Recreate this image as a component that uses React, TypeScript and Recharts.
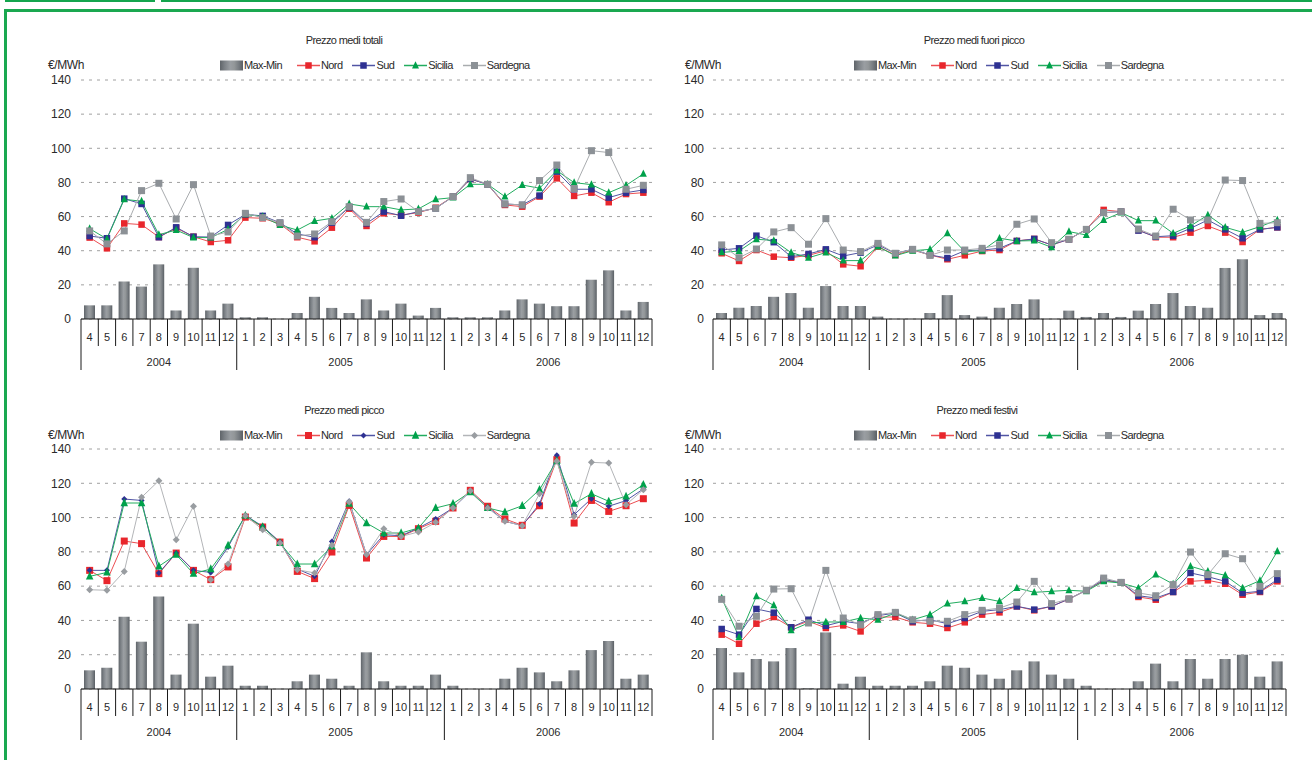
import React from 'react';
import { ComposedChart, Bar, Line, XAxis, YAxis, CartesianGrid } from 'recharts';

// ---------- categories ----------
const MONTHS = ['4','5','6','7','8','9','10','11','12','1','2','3','4','5','6','7','8','9','10','11','12','1','2','3','4','5','6','7','8','9','10','11','12'];
const YEARS = [
  { label: '2004', count: 9 },
  { label: '2005', count: 12 },
  { label: '2006', count: 12 },
];
const Y_TICKS = [0, 20, 40, 60, 80, 100, 120, 140];

// ---------- Prezzo medi totali ----------
const TOT_MAXMIN = [8, 8, 22, 19, 32, 5, 30, 5, 9, 1, 1, 0, 3.5, 13, 6.5, 3.5, 11.5, 5, 9, 2, 6.5, 1, 1, 1, 5, 11.5, 9, 7.5, 7.5, 23, 28.5, 5, 10];
const TOT_NORD = [47.7, 41.4, 56, 55.3, 48, 53.3, 48.2, 45.1, 46.1, 59.4, 59, 55.7, 47.9, 45.5, 53.5, 64.6, 54.5, 61.9, 60.9, 62.3, 65.2, 71.7, 82, 78.9, 66.8, 65.8, 71.7, 82.4, 72.1, 74, 68.4, 73.2, 74];
const TOT_SUD = [48.6, 47.3, 70.5, 67.4, 47.9, 53.7, 48.2, 48, 55.1, 61.3, 60.4, 56.4, 49.8, 47.9, 56.4, 65.4, 56, 62.9, 60.5, 62.9, 64.8, 71.7, 82, 78.9, 67.4, 66.8, 72.3, 86.3, 76, 76, 71.1, 74, 75.6];
const TOT_SICILIA = [52.9, 46.9, 70.1, 69, 49.4, 52.1, 47.7, 47.7, 52.5, 61.3, 60, 55, 52.1, 57.4, 59, 67.4, 65.8, 65.8, 63.9, 64.5, 70.1, 71.1, 78.9, 78.9, 71.7, 78.5, 76.6, 86.9, 79.9, 78.7, 74, 78.3, 85];
const TOT_SARDEGNA = [51.6, 44, 51.6, 75.2, 79.5, 58.6, 78.7, 48.6, 51, 61.9, 59.4, 56.4, 48.6, 49.8, 57, 65.8, 56.6, 68.8, 70.3, 62.9, 64.8, 71.7, 82.8, 78.9, 67.4, 66.8, 81.1, 90.2, 76.4, 98.6, 97.5, 76, 78.3];

// ---------- Prezzo medi fuori picco ----------
const FP_MAXMIN = [3.5, 6.6, 7.6, 13, 15.2, 6.6, 19.3, 7.6, 7.6, 1.4, 0, 0, 3.5, 14, 2.3, 1.4, 6.6, 8.8, 11.5, 0, 4.9, 1.2, 3.5, 1.2, 4.9, 8.8, 15.2, 7.6, 6.6, 29.9, 35, 2.3, 3.5];
const FP_NORD = [38.5, 34, 40.4, 36.5, 35.9, 37.3, 40, 32, 30.9, 42.4, 37.5, 40.4, 37.5, 35, 37.3, 39.8, 40.4, 45.7, 46.9, 43.4, 46.7, 52.5, 63.9, 62.9, 52.1, 47.9, 47.9, 50.6, 54.5, 50.6, 45.1, 52.5, 53.7];
const FP_SUD = [40.4, 41.4, 48.8, 45, 36.5, 38.1, 40.8, 36.9, 38.9, 43.4, 38.5, 40.8, 37.5, 35.7, 40, 40.4, 41.4, 45.7, 46.9, 43.4, 46.7, 52.5, 62.3, 62.9, 51.8, 48.2, 48.8, 53.1, 58, 52.5, 47.3, 52.5, 53.7];
const FP_SICILIA = [39, 39.8, 46.7, 46, 38.9, 35.9, 38.9, 34.2, 34.2, 42.4, 37.1, 40, 40.8, 50.2, 39.5, 40, 47.3, 45.7, 45.9, 42, 51.2, 49.2, 58, 62.3, 57.6, 57.6, 50.2, 54.5, 60.9, 53.7, 50.8, 54.1, 58];
const FP_SARDEGNA = [43.4, 35.9, 41, 51, 53.5, 43.8, 58.8, 40.4, 39.5, 44.3, 38.5, 40.8, 37.3, 40.4, 40.4, 41.4, 43.4, 55.5, 58.6, 44.7, 46.7, 52.5, 62.3, 62.9, 52.7, 48.6, 64.3, 58, 58, 81.4, 81.1, 56, 56.4];

// ---------- Prezzo medi picco ----------
const PK_MAXMIN = [10.9, 12.4, 42.2, 27.6, 53.9, 8.4, 38.1, 7.2, 13.6, 1.9, 1.9, 0, 4.5, 8.4, 6, 1.9, 21.4, 4.5, 1.9, 1.9, 8.4, 1.9, 0, 0, 6, 12.4, 9.7, 4.5, 10.9, 22.7, 28, 6, 8.4];
const PK_NORD = [69.2, 63.2, 86.3, 84.8, 67.3, 79.3, 69.2, 63.8, 71.2, 100.3, 94.5, 85.7, 68.6, 64.4, 79.9, 107.1, 76.4, 89, 89, 93.5, 97.8, 105.6, 115.9, 106.6, 99.2, 95.5, 106.9, 133.8, 96.8, 110, 103.6, 106.9, 111];
const PK_SUD = [69.2, 69.2, 110.8, 110, 67.7, 79.3, 69.2, 68, 82.8, 101.3, 94.9, 85.7, 70, 65.7, 86.1, 109.5, 78.4, 90, 89.4, 93.9, 99.2, 105.6, 115.3, 106.2, 97.8, 95.3, 107.9, 136.3, 101.7, 111, 106.6, 109.9, 116.7];
const PK_SICILIA = [65.7, 68, 108.5, 108.5, 71.6, 78.4, 67.3, 70, 83.8, 101.1, 94.5, 85.2, 72.9, 72.9, 83.2, 108.1, 96.8, 91, 91, 93.9, 105.6, 108.1, 114.9, 105.6, 103.2, 106.9, 116.3, 133.2, 108.1, 113.9, 109.5, 112.4, 119.2];
const PK_SARDEGNA = [57.9, 57.6, 68.6, 111.8, 121.5, 87.1, 106.6, 63.8, 72.9, 101.1, 92.9, 85.2, 69.6, 67.7, 83.8, 109.1, 78.4, 93.5, 89, 91.6, 97.2, 105.6, 115.7, 105.6, 97.8, 95.3, 113.9, 132.8, 100.7, 132.2, 131.8, 107.5, 116.3];

// ---------- Prezzo medi festivi ----------
const FE_MAXMIN = [23.9, 9.7, 17.5, 16.1, 23.9, 0.4, 33, 3.1, 7.2, 1.9, 1.9, 1.9, 4.5, 13.6, 12.4, 8.4, 6, 10.9, 16.1, 8.4, 6, 1.9, 0, 0, 4.5, 14.8, 4.5, 17.5, 6, 17.5, 20, 7.2, 16.1];
const FE_NORD = [31.7, 26.4, 38.1, 42, 36, 39.5, 35.6, 37.1, 33.6, 42, 42, 38.9, 38.1, 35.6, 38.9, 43.4, 44.7, 48.2, 45.9, 48.2, 52.5, 57.6, 63.2, 62.2, 53.7, 52.1, 56.6, 62.8, 63.4, 61.4, 55, 56.6, 62.8];
const FE_SUD = [35, 31.7, 46.7, 44.5, 36, 40.4, 36.9, 39.5, 38.1, 42.8, 44.3, 39.5, 40.4, 38.1, 41.4, 45.3, 46.3, 48.2, 46.3, 48.2, 52.5, 57.6, 63.8, 62.2, 54.4, 53.1, 56.6, 67.7, 65.5, 62.8, 56, 57, 63.8];
const FE_SICILIA = [53.1, 30.3, 54.1, 48.8, 34.2, 38.5, 39.1, 39.1, 41.4, 40.4, 44.3, 40.4, 43.4, 49.8, 51.1, 53.1, 51.1, 58.9, 56.4, 57, 57.6, 57, 62.8, 61.8, 58.9, 66.7, 61.2, 71.6, 68.6, 66.3, 58.9, 63.2, 80.3];
const FE_SARDEGNA = [52.3, 36.6, 42.4, 58.3, 58.5, 38.5, 69.2, 41.4, 37.5, 43.4, 44.7, 40.4, 39.5, 39.5, 43.4, 45.9, 47.2, 50.7, 62.8, 49.8, 52.5, 57.6, 64.7, 62.2, 56, 54.4, 60.9, 79.9, 66.7, 78.9, 76, 59.9, 67.3];

// ---------- styling ----------
const FONT = '"Liberation Sans", Arial, sans-serif';
const TEXT = '#2a2a2a';

type Shape = 'square' | 'triangle' | 'diamond' | 'circle';
type SeriesStyle = { key: string; name: string; line: string; fill: string; shape: Shape; size: number };

const STD_SERIES: SeriesStyle[] = [
  { key: 'nord', name: 'Nord', line: '#ec4f53', fill: '#e8262c', shape: 'square', size: 6.5 },
  { key: 'sud', name: 'Sud', line: '#5155a4', fill: '#2e3192', shape: 'square', size: 6.5 },
  { key: 'sicilia', name: 'Sicilia', line: '#22ad5f', fill: '#00a14b', shape: 'triangle', size: 7 },
  { key: 'sardegna', name: 'Sardegna', line: '#a9acaf', fill: '#8c9196', shape: 'square', size: 7 },
];
const PK_SERIES: SeriesStyle[] = [
  { key: 'nord', name: 'Nord', line: '#ec4f53', fill: '#e8262c', shape: 'square', size: 7 },
  { key: 'sud', name: 'Sud', line: '#5155a4', fill: '#2e3192', shape: 'diamond', size: 6 },
  { key: 'sicilia', name: 'Sicilia', line: '#22ad5f', fill: '#00a14b', shape: 'triangle', size: 7.5 },
  { key: 'sardegna', name: 'Sardegna', line: '#b3b5b8', fill: '#999da1', shape: 'diamond', size: 7 },
];

function markerEl(shape: Shape, cx: number, cy: number, s: number, fill: string, key?: any) {
  const h = s / 2;
  if (shape === 'square') return <rect key={key} x={cx - h} y={cy - h} width={s} height={s} fill={fill} />;
  if (shape === 'triangle')
    return <polygon key={key} points={`${cx},${cy - s * 0.62} ${cx - h},${cy + s * 0.42} ${cx + h},${cy + s * 0.42}`} fill={fill} />;
  if (shape === 'diamond')
    return <polygon key={key} points={`${cx},${cy - h} ${cx + h},${cy} ${cx},${cy + h} ${cx - h},${cy}`} fill={fill} />;
  return <circle key={key} cx={cx} cy={cy} r={h} fill={fill} />;
}

const makeDot = (st: SeriesStyle) => (p: any) => {
  const { cx, cy, index } = p;
  if (cx == null || cy == null || isNaN(cx) || isNaN(cy)) return <g key={`e${index}`} />;
  return markerEl(st.shape, cx, cy, st.size, st.fill, `d${index}`);
};

const YEAR_STARTS: number[] = YEARS.reduce((acc: number[], y, i) => {
  acc.push(i === 0 ? 0 : acc[i - 1] + YEARS[i - 1].count);
  return acc;
}, []);

const FALLBACK_HALF = 571 / MONTHS.length / 2;

const MonthTick = (props: any) => {
  const { x, y, payload } = props;
  const i = payload.index;
  const half = payload.offset ? payload.offset : FALLBACK_HALF;
  const yi = YEAR_STARTS.indexOf(i);
  const isLast = i === MONTHS.length - 1;
  return (
    <g>
      <line x1={x - half} x2={x - half} y1={y} y2={y + (yi >= 0 ? 51 : 27)} stroke="#1a1a1a" strokeWidth={1} />
      {isLast && <line x1={x + half} x2={x + half} y1={y} y2={y + 27} stroke="#1a1a1a" strokeWidth={1} />}
      <text x={x} y={y + 22} textAnchor="middle" fontSize={11} fill={TEXT} fontFamily={FONT}>{payload.value}</text>
      {yi >= 0 && (
        <text x={x - half + YEARS[yi].count * half} y={y + 47} textAnchor="middle" fontSize={11} fill={TEXT} fontFamily={FONT}>
          {YEARS[yi].label}
        </text>
      )}
    </g>
  );
};

function LegendIcon({ st }: { st?: SeriesStyle }) {
  if (!st) {
    return (
      <svg width={23} height={11} style={{ display: 'block' }}>
        <rect x={0} y={0.5} width={23} height={10} fill="url(#barGrad)" />
      </svg>
    );
  }
  return (
    <svg width={23} height={11} style={{ display: 'block' }}>
      <line x1={0} x2={23} y1={5.5} y2={5.5} stroke={st.line} strokeWidth={1.5} />
      {markerEl(st.shape, 11.5, 5.5, st.size, st.fill)}
    </svg>
  );
}

type PanelProps = {
  left: number; top: number; width: number;
  title: string; titleX: number; legendX: number; euroX: number;
  maxmin: number[]; nord: number[]; sud: number[]; sicilia: number[]; sardegna: number[];
  series: SeriesStyle[]; tickMargin: number; marginTop: number;
};

function Panel(p: PanelProps) {
  const data = MONTHS.map((m, i) => ({
    m, maxmin: p.maxmin[i], nord: p.nord[i], sud: p.sud[i], sicilia: p.sicilia[i], sardegna: p.sardegna[i],
  }));
  const txt: React.CSSProperties = { position: 'absolute', fontFamily: FONT, fontSize: 11, color: TEXT, whiteSpace: 'nowrap', lineHeight: '12px' };
  return (
    <div style={{ position: 'absolute', left: p.left, top: p.top, width: p.width, height: 380 }}>
      <ComposedChart width={p.width} height={380} data={data} margin={{ top: p.marginTop, right: 8, left: 41, bottom: 31 }}>
        <CartesianGrid vertical={false} stroke="#a0a0a0" strokeDasharray="3 5" />
        <YAxis
          domain={[0, 140]}
          ticks={Y_TICKS}
          width={40}
          axisLine={false}
          tickLine={false}
          tickSize={6}
          tickMargin={p.tickMargin}
          interval={0}
          tick={{ fontSize: 12, fill: TEXT, fontFamily: FONT }}
        />
        <XAxis
          dataKey="m"
          height={30}
          interval={0}
          tickLine={false}
          tickSize={0}
          tickMargin={0}
          axisLine={{ stroke: '#1a1a1a' }}
          tick={<MonthTick />}
        />
        <Bar dataKey="maxmin" fill="url(#barGrad)" barSize={11} isAnimationActive={false} />
        {p.series.map((st) => (
          <Line
            key={st.key}
            dataKey={st.key}
            type="linear"
            stroke={st.line}
            strokeWidth={1}
            dot={makeDot(st)}
            activeDot={false}
            isAnimationActive={false}
          />
        ))}
      </ComposedChart>
      <div style={{ ...txt, left: p.titleX, top: 34, transform: 'translateX(-50%)', letterSpacing: '-0.6px' }}>{p.title}</div>
      <div style={{ ...txt, left: p.euroX, top: 59, fontSize: 12, letterSpacing: '-0.4px' }}>€/MWh</div>
      <div style={{ position: 'absolute', left: p.legendX, top: 59, display: 'flex', alignItems: 'center', fontFamily: FONT, fontSize: 11, color: TEXT, letterSpacing: '-0.6px', lineHeight: '12px' }}>
        <LegendIcon />
        <span style={{ marginLeft: 1, marginRight: 15 }}>Max-Min</span>
        {p.series.map((st) => (
          <React.Fragment key={st.key}>
            <LegendIcon st={st} />
            <span style={{ marginLeft: 1, marginRight: 10 }}>{st.name}</span>
          </React.Fragment>
        ))}
      </div>
    </div>
  );
}

export default function App() {
  return (
    <div style={{ position: 'absolute', left: 0, top: 0, width: 1312, height: 760, overflow: 'hidden', background: '#fff' }}>
      <svg width={0} height={0} style={{ position: 'absolute' }}>
        <defs>
          <linearGradient id="barGrad" x1="0" x2="1" y1="0" y2="0">
            <stop offset="0%" stopColor="#5f6469" />
            <stop offset="20%" stopColor="#7c8186" />
            <stop offset="45%" stopColor="#9a9ea2" />
            <stop offset="62%" stopColor="#939799" />
            <stop offset="82%" stopColor="#777c81" />
            <stop offset="100%" stopColor="#5a5f64" />
          </linearGradient>
        </defs>
      </svg>
      {/* green frame */}
      <div style={{ position: 'absolute', left: 5, top: 0, width: 150, height: 1.5, background: '#13a54d' }} />
      <div style={{ position: 'absolute', left: 161, top: 0, width: 1151, height: 1.5, background: '#13a54d' }} />
      <div style={{ position: 'absolute', left: 4, top: 9, width: 1330, height: 780, border: '3px solid #1aa850', boxSizing: 'border-box' }} />

      <Panel left={0} top={0} width={660} title="Prezzo medi totali" titleX={344} legendX={220} euroX={48}
        maxmin={TOT_MAXMIN} nord={TOT_NORD} sud={TOT_SUD} sicilia={TOT_SICILIA} sardegna={TOT_SARDEGNA}
        series={STD_SERIES} tickMargin={4} marginTop={80} />
      <Panel left={632} top={0} width={662} title="Prezzo medi fuori picco" titleX={342} legendX={222} euroX={53}
        maxmin={FP_MAXMIN} nord={FP_NORD} sud={FP_SUD} sicilia={FP_SICILIA} sardegna={FP_SARDEGNA}
        series={STD_SERIES} tickMargin={3} marginTop={80} />
      <Panel left={0} top={370} width={660} title="Prezzo medi picco" titleX={344} legendX={220} euroX={48}
        maxmin={PK_MAXMIN} nord={PK_NORD} sud={PK_SUD} sicilia={PK_SICILIA} sardegna={PK_SARDEGNA}
        series={PK_SERIES} tickMargin={4} marginTop={79} />
      <Panel left={632} top={370} width={662} title="Prezzo medi festivi" titleX={345} legendX={222} euroX={53}
        maxmin={FE_MAXMIN} nord={FE_NORD} sud={FE_SUD} sicilia={FE_SICILIA} sardegna={FE_SARDEGNA}
        series={STD_SERIES} tickMargin={3} marginTop={79} />
    </div>
  );
}
